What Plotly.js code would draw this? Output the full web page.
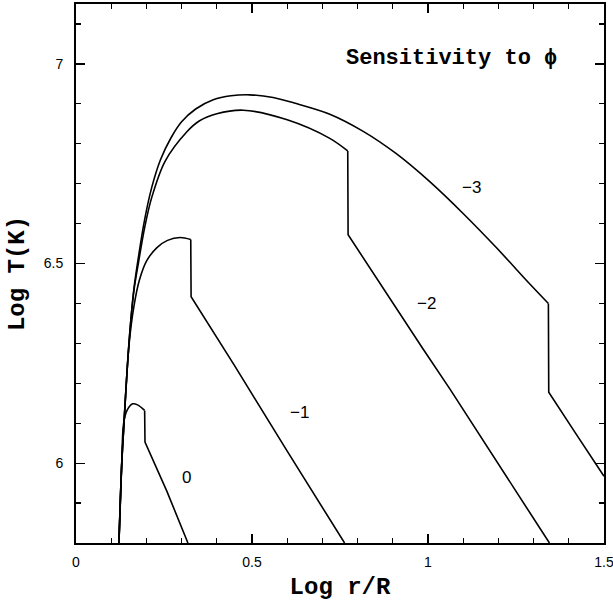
<!DOCTYPE html>
<html>
<head>
<meta charset="utf-8">
<script src="https://cdn.plot.ly/plotly-3.0.1.min.js"></script>
<style>html,body{margin:0;padding:0;background:#fff;}#chart{width:613px;height:603px;}</style>
</head>
<body>
<div id="chart"></div>
<script>
// phi = -3
const xPhiM3 = [0.122, 0.130, 0.137, 0.145, 0.155, 0.165, 0.178, 0.195, 0.215, 0.240, 0.270, 0.300, 0.340, 0.390, 0.440, 0.494, 0.560, 0.620, 0.721, 0.816, 0.910, 1.005, 1.099, 1.194, 1.288, 1.342, 1.343, 1.420, 1.500];
const yPhiM3 = [5.800, 6.000, 6.110, 6.230, 6.350, 6.440, 6.520, 6.610, 6.690, 6.760, 6.815, 6.855, 6.887, 6.910, 6.920, 6.9225, 6.916, 6.902, 6.874, 6.831, 6.775, 6.705, 6.626, 6.540, 6.450, 6.400, 6.1775, 6.074, 5.967];
// phi = -2
const xPhiM2 = [0.122, 0.130, 0.137, 0.145, 0.155, 0.165, 0.178, 0.195, 0.215, 0.253, 0.315, 0.350, 0.400, 0.475, 0.600, 0.721, 0.772, 0.773, 0.986, 1.062, 1.345];
const yPhiM2 = [5.800, 6.000, 6.110, 6.230, 6.350, 6.435, 6.505, 6.590, 6.665, 6.756, 6.830, 6.857, 6.875, 6.884, 6.860, 6.8135, 6.782, 6.572, 6.286, 6.186, 5.800];
// phi = -1
const xPhiM1 = [0.122, 0.130, 0.137, 0.143, 0.151, 0.165, 0.180, 0.201, 0.230, 0.260, 0.296, 0.326, 0.327, 0.450, 0.600, 0.763];
const yPhiM1 = [5.800, 6.000, 6.110, 6.200, 6.300, 6.395, 6.458, 6.507, 6.540, 6.558, 6.565, 6.560, 6.417, 6.245, 6.030, 5.800];
// phi = 0
const xPhi0 = [0.122, 0.126, 0.130, 0.135, 0.145, 0.161, 0.175, 0.195, 0.196, 0.258, 0.318];
const yPhi0 = [5.800, 5.900, 6.000, 6.098, 6.132, 6.1485, 6.146, 6.132, 6.0525, 5.930, 5.800];

// index of the point where each curve's smooth part ends (top of the sudden drop)
const dropTop = {m3: 25, m2: 16, m1: 11, z: 7};

const curveLabels = ["0", "\u22121", "\u22122", "\u22123"];
const labelX = [0.313, 0.636, 0.996, 1.124];
const labelY = [5.964, 6.127, 6.40, 6.691];

const xTickVals = [0, 0.5, 1, 1.5];
const xTickText = ["0", "0.5", "1", "1.5"];
const yTickVals = [6, 6.5, 7];
const yTickText = ["6", "6.5", "7"];

const lineStyle = {color: "#000", width: 1.6};
function curveTraces(xs, ys, k) {
  return [
    {x: xs.slice(0, k + 1), y: ys.slice(0, k + 1), mode: "lines",
     line: Object.assign({shape: "spline", smoothing: 0.9}, lineStyle)},
    {x: xs.slice(k), y: ys.slice(k), mode: "lines", line: Object.assign({shape: "linear"}, lineStyle)}
  ];
}
const traces = [].concat(
  curveTraces(xPhiM3, yPhiM3, dropTop.m3),
  curveTraces(xPhiM2, yPhiM2, dropTop.m2),
  curveTraces(xPhiM1, yPhiM1, dropTop.m1),
  curveTraces(xPhi0, yPhi0, dropTop.z)
);

const annotations = curveLabels.map((t, i) => ({
  x: labelX[i], y: labelY[i], xref: "x", yref: "y", text: t, showarrow: false,
  font: {family: "Liberation Sans, Arial, sans-serif", size: 17, color: "#000"}
}));
annotations.push({
  x: 1.068, y: 7.014, xref: "x", yref: "y", text: "Sensitivity to \u03D5", showarrow: false,
  font: {family: "Liberation Mono, Courier New, monospace", size: 22, color: "#000", weight: "bold"}
});

const axisCommon = {
  showline: true, linecolor: "#000", linewidth: 2, mirror: "ticks",
  ticks: "inside", ticklen: 9, tickwidth: 1.3, tickcolor: "#000",
  showgrid: false, zeroline: false, ticklabeloverflow: "allow",
  tickfont: {family: "Liberation Sans, Arial, sans-serif", size: 14, color: "#000"}
};

const layout = {
  width: 613, height: 603,
  margin: {l: 76, r: 9, t: 4, b: 60},
  paper_bgcolor: "#fff", plot_bgcolor: "#fff",
  showlegend: false,
  xaxis: Object.assign({}, axisCommon, {
    range: [0, 1.5], tickmode: "array", tickvals: xTickVals, ticktext: xTickText,
    ticklabelstandoff: 5,
    minor: {dtick: 0.1, ticks: "inside", ticklen: 5, tickwidth: 1.3, tickcolor: "#000"},
    title: {text: "Log r/R", standoff: 8,
      font: {family: "Liberation Mono, Courier New, monospace", size: 24, color: "#000", weight: "bold"}}
  }),
  yaxis: Object.assign({}, axisCommon, {
    range: [5.8, 7.15], tickmode: "array", tickvals: yTickVals, ticktext: yTickText,
    ticklabelstandoff: 8,
    minor: {dtick: 0.1, ticks: "inside", ticklen: 5, tickwidth: 1.3, tickcolor: "#000"},
    title: {text: "Log T(K)", standoff: 12,
      font: {family: "Liberation Mono, Courier New, monospace", size: 24, color: "#000", weight: "bold"}}
  }),
  annotations: annotations
};

Plotly.newPlot("chart", traces, layout, {staticPlot: true, displayModeBar: false});
</script>
</body>
</html>
